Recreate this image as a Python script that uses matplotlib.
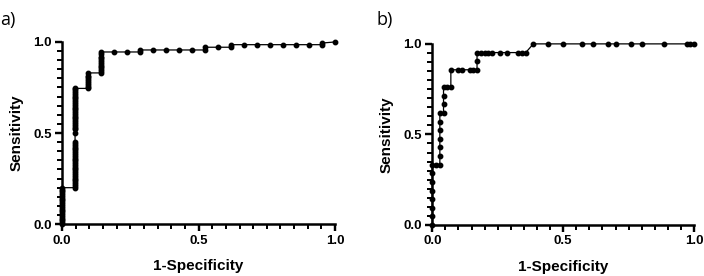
import matplotlib
matplotlib.use('Agg')
import matplotlib.pyplot as plt
from matplotlib.markers import TICKDOWN, TICKLEFT
import numpy as np

plt.rcParams['font.family'] = ['Liberation Sans', 'DejaVu Sans']
plt.rcParams['xtick.direction'] = 'out'
plt.rcParams['ytick.direction'] = 'out'

'''panel a: ROC points read off the picture (21 negatives)'''
fpr_a = ([0.0] * 21
         + [0.048] * 51
         + [0.095] * 9
         + [0.143] * 12
         + [0.190, 0.238, 0.286, 0.286, 0.333, 0.381, 0.429, 0.476, 0.524, 0.524,
            0.571, 0.619, 0.619, 0.667, 0.714, 0.762, 0.810, 0.857, 0.905, 0.952,
            0.952, 1.0])
tpr_a = ([0.00, 0.01, 0.02, 0.03, 0.04, 0.05, 0.06, 0.07, 0.08, 0.09, 0.10,
          0.11, 0.12, 0.13, 0.14, 0.15, 0.16, 0.17, 0.18, 0.19, 0.20]
         + [0.20, 0.21, 0.22, 0.23, 0.24, 0.25, 0.26, 0.27, 0.28, 0.29, 0.30,
            0.31, 0.32, 0.33, 0.34, 0.35, 0.36, 0.37, 0.38, 0.39, 0.40, 0.41,
            0.42, 0.43, 0.44, 0.45, 0.50, 0.52, 0.53, 0.54, 0.55, 0.56, 0.57,
            0.58, 0.59, 0.60, 0.61, 0.62, 0.63, 0.64, 0.65, 0.66, 0.67, 0.68,
            0.69, 0.70, 0.71, 0.72, 0.73, 0.74, 0.745]
         + [0.745, 0.755, 0.765, 0.775, 0.785, 0.795, 0.805, 0.815, 0.83]
         + [0.83, 0.84, 0.85, 0.86, 0.87, 0.88, 0.89, 0.90, 0.91, 0.92, 0.935, 0.945]
         + [0.945, 0.945, 0.945, 0.956, 0.956, 0.956, 0.956, 0.956, 0.956, 0.971,
            0.971, 0.971, 0.985, 0.985, 0.985, 0.985, 0.985, 0.985, 0.985, 0.985,
            0.994, 1.0])

'''panel b: ROC points (70 negatives, 21 positives)'''
fpr_b = [0.0, 0.0, 0.0, 0.0, 0.0, 0.0, 0.0, 0.0, 0.014, 0.029,
         0.029, 0.029, 0.029, 0.029, 0.029, 0.029, 0.043, 0.043, 0.043, 0.043,
         0.057, 0.071, 0.071, 0.100, 0.114, 0.143, 0.157, 0.171, 0.171, 0.171,
         0.186, 0.200, 0.214, 0.229, 0.257, 0.286, 0.329, 0.343, 0.357, 0.386,
         0.443, 0.500, 0.571, 0.614, 0.671, 0.700, 0.757, 0.800, 0.886, 0.971,
         0.986, 1.0]
tpr_b = [0.0, 0.048, 0.095, 0.143, 0.190, 0.238, 0.286, 0.333, 0.333, 0.333,
         0.381, 0.429, 0.476, 0.524, 0.571, 0.619, 0.619, 0.667, 0.714, 0.762,
         0.762, 0.762, 0.857, 0.857, 0.857, 0.857, 0.857, 0.857, 0.905, 0.952,
         0.952, 0.952, 0.952, 0.952, 0.952, 0.952, 0.952, 0.952, 0.952, 1.0,
         1.0, 1.0, 1.0, 1.0, 1.0, 1.0, 1.0, 1.0, 1.0, 1.0,
         1.0, 1.0]

major_ticks = [0.0, 0.5, 1.0]
tick_labels = ['0.0', '0.5', '1.0']


def style_axes(ax):
    '''prism-like axes: only left/bottom spines, outward ticks'''
    for side in ['top', 'right']:
        ax.spines[side].set_visible(False)
    for side in ['left', 'bottom']:
        ax.spines[side].set_linewidth(1.8)
    ax.set_xlim(0, 1)
    ax.set_ylim(0, 1)
    ax.set_xticks(major_ticks)
    ax.set_yticks(major_ticks)
    ax.set_xticklabels(tick_labels, fontweight='bold')
    ax.set_yticklabels(tick_labels, fontweight='bold')
    minor = np.round(np.arange(0.05, 1.0, 0.05), 2)
    ax.set_xticks(minor, minor=True)
    ax.set_yticks(minor, minor=True)
    ax.tick_params(which='major', direction='out', length=5, width=1.6,
                   labelsize=9.5, pad=2.5)
    ax.tick_params(which='minor', direction='out', length=3.5, width=1.3,
                   color='black')
    # draw the tick marks as markers as well, so they surely show
    for ticks, size, mew in [(major_ticks, 5, 1.6), (minor, 3.5, 1.3)]:
        ax.plot(ticks, [0] * len(ticks), linestyle='none', marker=TICKDOWN,
                markersize=size, markeredgewidth=mew, color='black',
                transform=ax.get_xaxis_transform(), clip_on=False, zorder=4)
        ax.plot([0] * len(ticks), ticks, linestyle='none', marker=TICKLEFT,
                markersize=size, markeredgewidth=mew, color='black',
                transform=ax.get_yaxis_transform(), clip_on=False, zorder=4)
    ax.set_xlabel('1-Specificity', fontsize=11, fontweight='bold', labelpad=9)
    ax.set_ylabel('Sensitivity', fontsize=11, fontweight='bold', labelpad=7)


fig = plt.figure(figsize=(7.04, 2.76), dpi=100)
ax_a = fig.add_axes([0.088, 0.188, 0.388, 0.660])
ax_b = fig.add_axes([0.614, 0.185, 0.372, 0.656])

for ax, fpr, tpr in [(ax_a, fpr_a, tpr_a), (ax_b, fpr_b, tpr_b)]:
    ax.plot(fpr, tpr, color='black', lw=0.9, marker='o', markersize=3.2,
            clip_on=False, zorder=3)
    style_axes(ax)

fig.text(0.0, 0.91, 'a)', fontsize=13, family=['Open Sans', 'DejaVu Sans'])
fig.text(0.535, 0.91, 'b)', fontsize=13, family=['Open Sans', 'DejaVu Sans'])

fig.savefig('out.png', dpi=100)
